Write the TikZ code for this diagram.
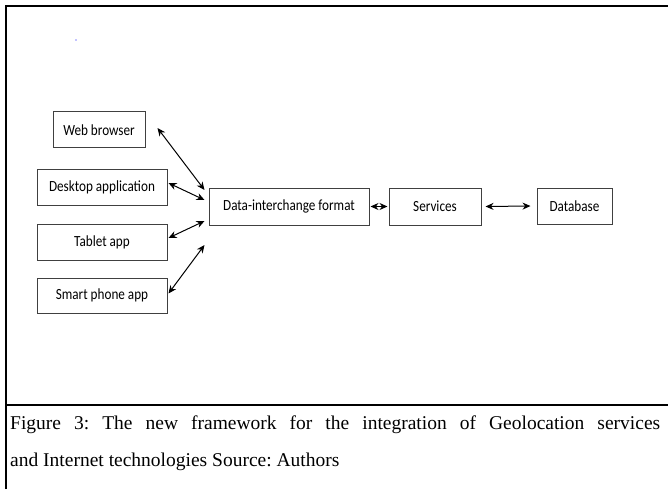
\documentclass[tikz,border=0pt]{standalone}
\usepackage{fontspec}
\usepackage{graphicx}
\setmainfont{Liberation Serif}
\newfontfamily\boxfont{Carlito}
\usetikzlibrary{arrows.meta}
\newcommand{\bx}[1]{\scalebox{0.85}[1]{#1}}
\begin{document}
\frenchspacing
\begin{tikzpicture}[x=1pt,y=-1pt,
  box/.style={draw=black!75,line width=1pt,minimum height=36pt,inner sep=0pt,
    font=\boxfont\fontsize{15.5}{17}\selectfont},
  link/.style={line width=1pt,{Stealth[length=8pt,width=7pt]}-{Stealth[length=8pt,width=7pt]}},
  frame/.style={line width=2pt}]
\useasboundingbox (0,0) rectangle (668,489);
\fill[white] (0,0) rectangle (668,489);
% frame
\draw[frame] (6,489) -- (6,6) -- (668,6);
\draw[frame] (6,405) -- (668,405);
\fill[blue] (76,40) circle (0.6);
% nodes
\node[box,minimum width=92pt] (wb) at (99,130) {\bx{Web browser}};
\node[box,minimum width=130pt] (da) at (102,187) {\bx{Desktop application}};
\node[box,minimum width=130pt] (ta) at (102,242) {\bx{Tablet app}};
\node[box,minimum width=130pt,minimum height=35pt] (sp) at (102,295.5) {\bx{Smart phone app}};
\node[box,minimum width=160pt,minimum height=37pt] (dif) at (289,206.5) {\bx{Data-interchange format}};
\node[box,minimum width=92pt,minimum height=37pt] (sv) at (435,206.5) {\bx{Services}};
\node[box,minimum width=75pt] (db) at (574.5,206) {\bx{Database}};
% connectors
\draw[link] ([shift={(12,-2)}]wb.east) -- ([shift={(-4,-16.5)}]dif.west);
\draw[link] ([shift={(1,-4)}]da.east) -- ([shift={(-4,-6.5)}]dif.west);
\draw[link] ([shift={(1,-4)}]ta.east) -- ([shift={(-4,14.5)}]dif.west);
\draw[link] ([shift={(1,-2)}]sp.east) -- ([shift={(-4,38.5)}]dif.west);
\draw[link] ([shift={(1,0)}]dif.east) -- ([shift={(-1,0)}]sv.west);
\draw[link] ([shift={(4,0)}]sv.east) -- ([shift={(-6,0)}]db.west);
% caption
\node[anchor=base west,inner sep=0pt,font=\fontsize{19.5}{23}\selectfont] (cap1) at (10,429)
  {\makebox[650pt][s]{Figure 3: The new framework for the integration of Geolocation services}};
\node[anchor=base west,inner sep=0pt,font=\fontsize{19.5}{23}\selectfont] (cap2) at (10,466)
  {and Internet technologies Source: Authors};
\end{tikzpicture}
\end{document}
